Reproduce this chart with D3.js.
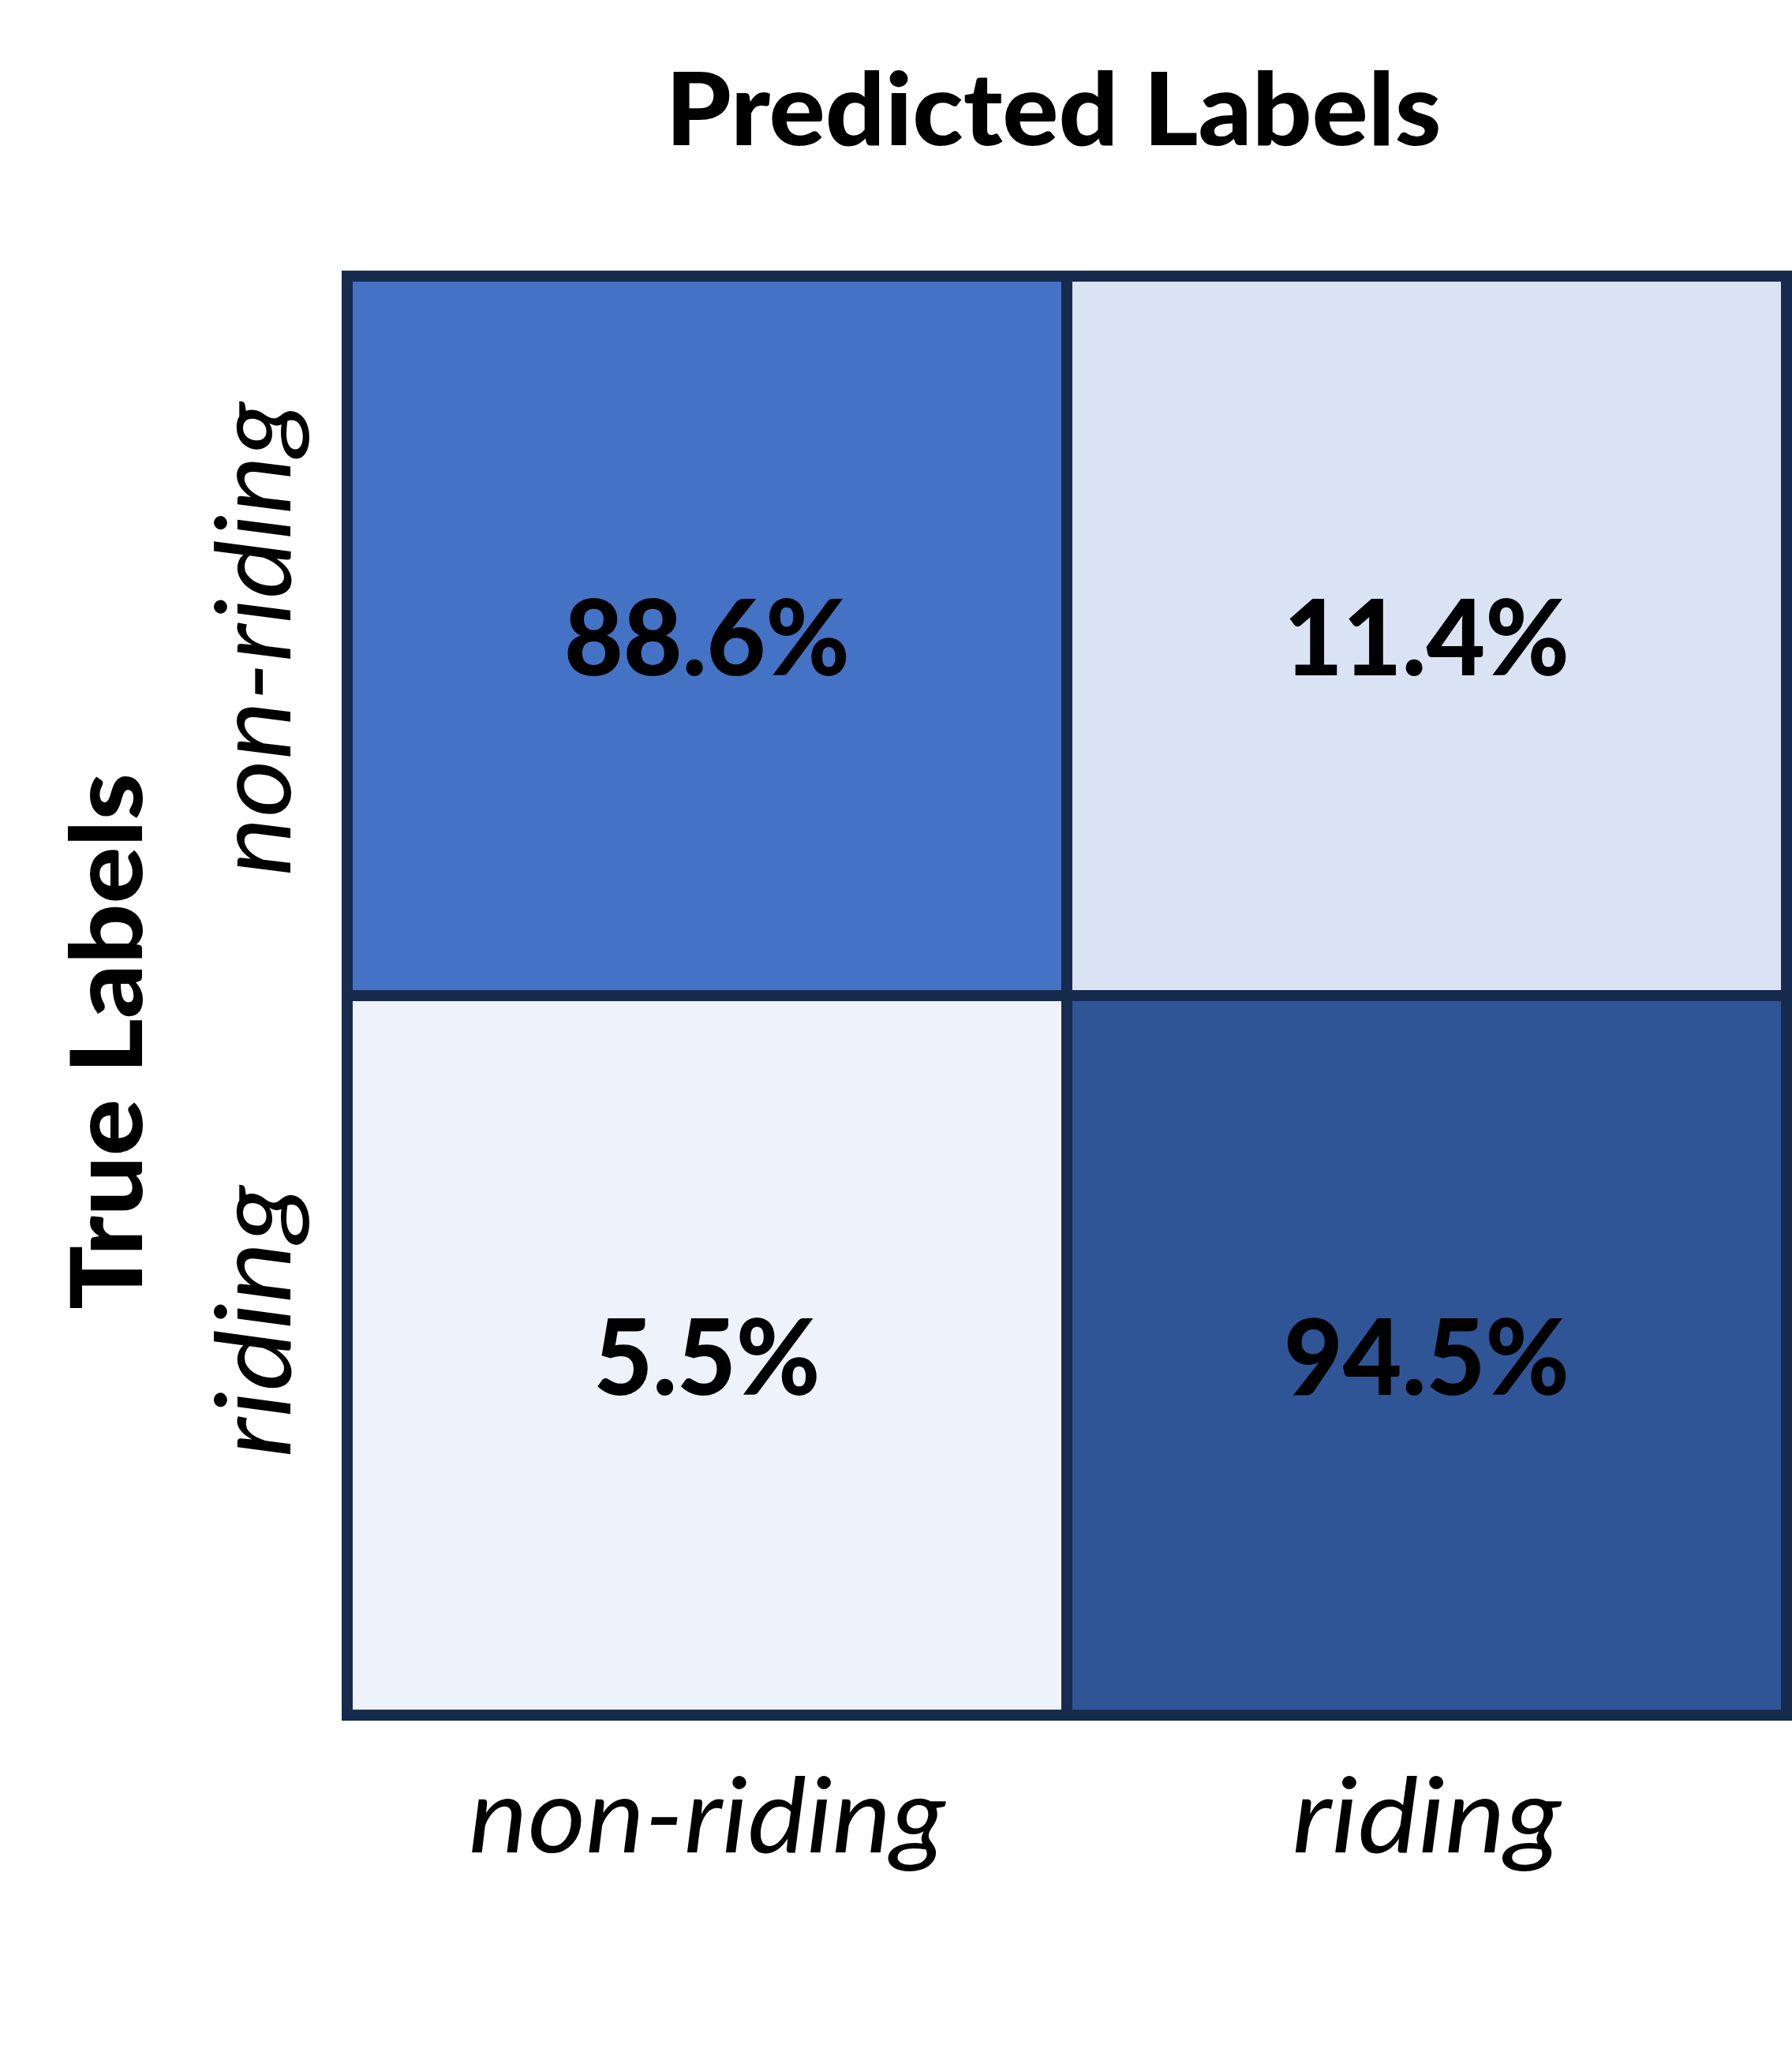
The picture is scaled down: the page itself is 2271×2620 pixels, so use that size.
<!DOCTYPE html>
<html>
<head>
<meta charset="utf-8">
<script src="https://cdn.jsdelivr.net/npm/d3@7"></script>
<style>
  html, body { margin: 0; padding: 0; background: #fff; }
  svg { display: block; }
  text { font-family: Lato, "Open Sans", sans-serif; fill: #000; }
</style>
</head>
<body>
<svg id="chart"></svg>
<script>
// confusion matrix, row = true label, col = predicted label
const classes = ["non-riding", "riding"];
const rowNonRiding = [88.6, 11.4];
const rowRiding = [5.5, 94.5];
const matrix = [rowNonRiding, rowRiding];
const cellColors = ["#EEF2FA", "#DAE3F3", "#4472C4", "#2F5597"];

const width = 2271, height = 2620;
const margin = { top: 350, right: 7, bottom: 446, left: 440 };

const svg = d3.select("#chart")
  .attr("width", width)
  .attr("height", height);

const x = d3.scaleBand().domain(classes).range([margin.left, width - margin.right]);
const y = d3.scaleBand().domain(classes).range([margin.top, height - margin.bottom]);

const allVals = matrix.flat().slice().sort(d3.ascending);
const color = d3.scaleLinear().domain(allVals).range(cellColors);

const cells = [];
matrix.forEach((row, i) => row.forEach((v, j) => {
  cells.push({ row: classes[i], col: classes[j], value: v });
}));

// fit text to a target width (Calibri-like proportions)
function fit(sel, w) {
  sel.attr("textLength", w).attr("lengthAdjust", "spacingAndGlyphs");
}

// cells
svg.append("g").selectAll("rect")
  .data(cells)
  .join("rect")
    .attr("x", d => x(d.col))
    .attr("y", d => y(d.row))
    .attr("width", x.bandwidth())
    .attr("height", y.bandwidth())
    .attr("fill", d => color(d.value))
    .attr("stroke", "#172B4F")
    .attr("stroke-width", 14);

// annotations
svg.append("g").selectAll("text")
  .data(cells)
  .join("text")
    .attr("x", d => x(d.col) + x.bandwidth() / 2)
    .attr("y", d => y(d.row) + y.bandwidth() / 2 + 50)
    .attr("text-anchor", "middle")
    .attr("font-weight", 900)
    .attr("font-size", 134)
    .text(d => d.value.toFixed(1) + "%")
    .each(function(d) { fit(d3.select(this), d.value < 10 ? 287 : 362); });

// x tick labels
svg.append("g").selectAll("text")
  .data(classes)
  .join("text")
    .attr("x", d => x(d) + x.bandwidth() / 2)
    .attr("y", height - margin.bottom + 174)
    .attr("text-anchor", "middle")
    .attr("font-style", "italic")
    .attr("font-size", 132)
    .text(d => d)
    .each(function(d) { fit(d3.select(this), d === "riding" ? 341 : 604); });

// y tick labels (rotated)
svg.append("g").selectAll("text")
  .data(classes)
  .join("text")
    .attr("transform", d => `translate(368, ${y(d) + y.bandwidth() / 2 + (d === "riding" ? -43 : 4)}) rotate(-90)`)
    .attr("text-anchor", "middle")
    .attr("font-style", "italic")
    .attr("font-size", 132)
    .text(d => d)
    .each(function(d) { fit(d3.select(this), d === "riding" ? 345 : 601); });

// axis titles
svg.append("text")
  .attr("x", (margin.left + width - margin.right) / 2 - 17)
  .attr("y", 184)
  .attr("text-anchor", "middle")
  .attr("font-weight", 900)
  .attr("font-size", 128)
  .text("Predicted Labels")
  .call(fit, 983);

svg.append("text")
  .attr("transform", `translate(180, ${(margin.top + height - margin.bottom) / 2 + 58}) rotate(-90)`)
  .attr("text-anchor", "middle")
  .attr("font-weight", 900)
  .attr("font-size", 125)
  .text("True Labels")
  .call(fit, 680);
</script>
</body>
</html>
